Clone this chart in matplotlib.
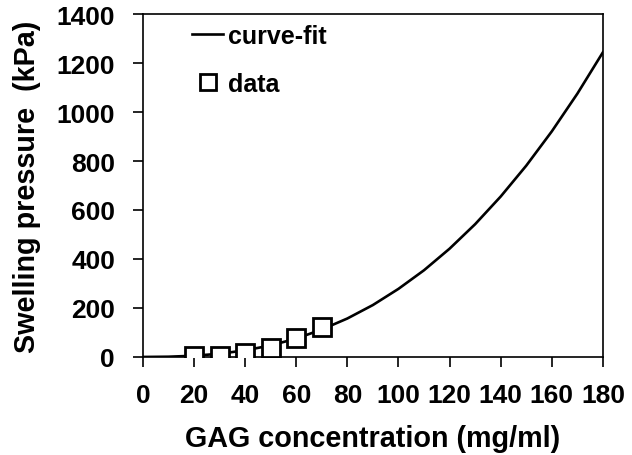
import matplotlib.pyplot as plt

# curve-fit values
fit_x = [0, 10, 20, 30, 40, 50, 60, 70, 80, 90, 100, 110, 120, 130, 140, 150, 160, 170, 180]
fit_p = [0, 1, 5, 13, 27, 47, 75, 112, 157, 212, 278, 354, 442, 542, 655, 781, 921, 1075, 1244]

# measured points
data_x = [20, 30, 40, 50, 60, 70]
data_p = [2, 5, 16, 37, 78, 124]

plt.rcParams['font.family'] = ['Liberation Sans', 'DejaVu Sans']
plt.rcParams['font.weight'] = 'bold'

fig, ax = plt.subplots(figsize=(6.32, 4.56), dpi=100)
fig.subplots_adjust(left=0.226, right=0.954, top=0.967, bottom=0.215)

ax.plot(fit_x, fit_p, color='black', lw=1.9, label='curve-fit', zorder=2)
ax.plot(data_x, data_p, 's', ms=13.5, mfc='white', mec='black', mew=2.0,
        label='data', zorder=3)

ax.set_xlim(0, 180)
ax.set_ylim(0, 1400)
ax.set_xticks(range(0, 181, 20))
ax.set_yticks(range(0, 1401, 200))
ax.tick_params(labelsize=19, width=1.2, length=7, direction='out')
ax.tick_params(axis='y', pad=13)
ax.tick_params(axis='x', pad=12)
for s in ax.spines.values():
    s.set_linewidth(1.2)

ax.set_xlabel('GAG concentration (mg/ml)', fontsize=20.7, fontweight='bold', labelpad=12)
ax.set_ylabel('Swelling pressure  (kPa)', fontsize=20.7, fontweight='bold', labelpad=11)

ax.legend(loc='upper left', bbox_to_anchor=(0.085, 1.0), frameon=False,
          fontsize=18, handlelength=1.25, handletextpad=0.2, labelspacing=0.95,
          borderaxespad=0.2, borderpad=0.2, markerscale=0.85)

fig.savefig('out.png', dpi=100)
